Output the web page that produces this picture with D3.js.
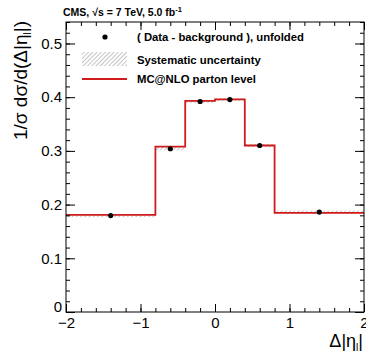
<!DOCTYPE html>
<html>
<head>
<meta charset="utf-8">
<script src="https://cdn.jsdelivr.net/npm/d3@7"></script>
<style>
  body { margin: 0; background: #fff; }
  text { font-family: "Liberation Sans", Arial, Helvetica, sans-serif; }
</style>
</head>
<body>
<svg id="chart" width="366" height="352"></svg>
<script>
// bin edges in delta |eta_l|
const binEdges = [-2, -0.8, -0.4, 0, 0.4, 0.8, 2];
// unfolded data (points at bin centres)
const dataValues = [0.1795, 0.304, 0.392, 0.3955, 0.310, 0.186];
// systematic uncertainty (half width of the hatched band)
const systUnc = [0.003, 0.003, 0.003, 0.003, 0.003, 0.003];
// MC@NLO parton level prediction
const mcValues = [0.181, 0.308, 0.393, 0.396, 0.310, 0.1845];
const xTicks = [-2, -1, 0, 1, 2];
const yTicks = [0, 0.1, 0.2, 0.3, 0.4, 0.5];

const width = 366, height = 352;
const marginTop = 22, marginRight = 2, marginBottom = 40, marginLeft = 66;

const svg = d3.select("#chart");

const x = d3.scaleLinear([-2, 2], [marginLeft, width - marginRight]);
const y = d3.scaleLinear([0, 0.54], [height - marginBottom, marginTop]);

// hatch pattern
const defs = svg.append("defs");
defs.append("pattern")
    .attr("id", "hatch")
    .attr("patternUnits", "userSpaceOnUse")
    .attr("width", 3).attr("height", 3)
    .attr("patternTransform", "rotate(45)")
  .append("line")
    .attr("x1", 0).attr("y1", 0).attr("x2", 0).attr("y2", 3)
    .attr("stroke", "#8a8a8a").attr("stroke-width", 1);

const bins = dataValues.map((v, i) => ({
  lo: binEdges[i], hi: binEdges[i + 1], data: v, unc: systUnc[i], mc: mcValues[i]
}));

// systematic bands
svg.append("g")
  .selectAll("rect")
  .data(bins)
  .join("rect")
    .attr("x", d => x(d.lo))
    .attr("width", d => x(d.hi) - x(d.lo))
    .attr("y", d => y(d.data + d.unc))
    .attr("height", d => y(d.data - d.unc) - y(d.data + d.unc))
    .attr("fill", "url(#hatch)");

// MC step line
const stepPts = bins.map(d => [d.lo, d.mc]);
stepPts.push([binEdges[binEdges.length - 1], mcValues[mcValues.length - 1]]);
svg.append("path")
    .datum(stepPts)
    .attr("fill", "none")
    .attr("stroke", "#d01c1c")
    .attr("stroke-width", 1.8)
    .attr("d", d3.line().x(d => x(d[0])).y(d => y(d[1])).curve(d3.curveStepAfter));

// data points
svg.append("g")
  .selectAll("circle")
  .data(bins)
  .join("circle")
    .attr("cx", d => x((d.lo + d.hi) / 2))
    .attr("cy", d => y(d.data))
    .attr("r", 2.6)
    .attr("fill", "#000");

// axes, ticks pointing inwards like ROOT
const minorX = d3.range(-2, 2.001, 0.2);
const minorY = d3.range(0, 0.541, 0.02);

function axisStyle(g) {
  g.select(".domain").remove();
  g.selectAll(".tick line").attr("stroke", "#000").attr("stroke-width", 1);
  g.selectAll("text").attr("fill", "#000").attr("font-size", 15);
}

svg.append("g")
    .attr("transform", `translate(0,${height - marginBottom})`)
    .call(d3.axisBottom(x).tickValues(minorX).tickSize(-4).tickFormat(""))
    .call(axisStyle);
svg.append("g")
    .attr("transform", `translate(0,${height - marginBottom})`)
    .call(d3.axisBottom(x).tickValues(xTicks).tickSize(-8).tickPadding(5).tickFormat(d3.format("d")))
    .call(axisStyle);
svg.append("g")
    .attr("transform", `translate(0,${marginTop})`)
    .call(d3.axisTop(x).tickValues(minorX).tickSize(-4).tickFormat(""))
    .call(axisStyle);
svg.append("g")
    .attr("transform", `translate(0,${marginTop})`)
    .call(d3.axisTop(x).tickValues(xTicks).tickSize(-8).tickFormat(""))
    .call(axisStyle);

svg.append("g")
    .attr("transform", `translate(${marginLeft},0)`)
    .call(d3.axisLeft(y).tickValues(minorY).tickSize(-4).tickFormat(""))
    .call(axisStyle);
svg.append("g")
    .attr("transform", `translate(${marginLeft},0)`)
    .call(d3.axisLeft(y).tickValues(yTicks).tickSize(-9).tickPadding(4).tickFormat(d => d === 0 ? "0" : d3.format(".1f")(d)))
    .call(axisStyle)
    .call(g => g.selectAll(".tick text").filter(d => d === 0).attr("dy", "-0.05em"));
svg.append("g")
    .attr("transform", `translate(${width - marginRight},0)`)
    .call(d3.axisRight(y).tickValues(minorY).tickSize(-4).tickFormat(""))
    .call(axisStyle);
svg.append("g")
    .attr("transform", `translate(${width - marginRight},0)`)
    .call(d3.axisRight(y).tickValues(yTicks).tickSize(-9).tickFormat(""))
    .call(axisStyle);

// frame
svg.append("rect")
    .attr("x", marginLeft).attr("y", marginTop)
    .attr("width", width - marginLeft - marginRight)
    .attr("height", height - marginTop - marginBottom)
    .attr("fill", "none").attr("stroke", "#000").attr("stroke-width", 1);

// axis titles
const yTitle = svg.append("text")
    .attr("transform", `translate(27,${marginTop - 1}) rotate(-90)`)
    .attr("text-anchor", "end")
    .attr("font-size", 19);
yTitle.append("tspan").text("1/\u03c3 d\u03c3/d(\u0394|\u03b7");
yTitle.append("tspan").attr("font-size", 10).attr("dy", 4).text("l");
yTitle.append("tspan").attr("dy", -4).text("|)");

const xTitle = svg.append("text")
    .attr("x", 363).attr("y", 347)
    .attr("text-anchor", "end")
    .attr("font-size", 18);
xTitle.append("tspan").text("\u0394|\u03b7");
xTitle.append("tspan").attr("font-size", 10).attr("dy", 4).text("l");
xTitle.append("tspan").attr("dy", -4).text("|");

// header
const head = svg.append("text")
    .attr("x", 63).attr("y", 16)
    .attr("font-size", 10.5).attr("font-weight", "bold");
head.append("tspan").text("CMS, \u221as = 7 TeV, 5.0 fb");
head.append("tspan").attr("font-size", 7.5).attr("dy", -4).text("-1");

// legend
const legend = svg.append("g").attr("font-size", 11.3).attr("font-weight", "bold");
legend.append("circle").attr("cx", 105).attr("cy", 37).attr("r", 2.6).attr("fill", "#000");
legend.append("text").attr("x", 137).attr("y", 41).text("( Data - background ), unfolded");
legend.append("rect").attr("x", 82).attr("y", 52).attr("width", 45).attr("height", 14)
    .attr("fill", "url(#hatch)");
legend.append("text").attr("x", 137).attr("y", 64).text("Systematic uncertainty");
legend.append("line").attr("x1", 82).attr("x2", 127).attr("y1", 79).attr("y2", 79)
    .attr("stroke", "#d01c1c").attr("stroke-width", 1.8);
legend.append("text").attr("x", 137).attr("y", 83).text("MC@NLO parton level");
</script>
</body>
</html>
